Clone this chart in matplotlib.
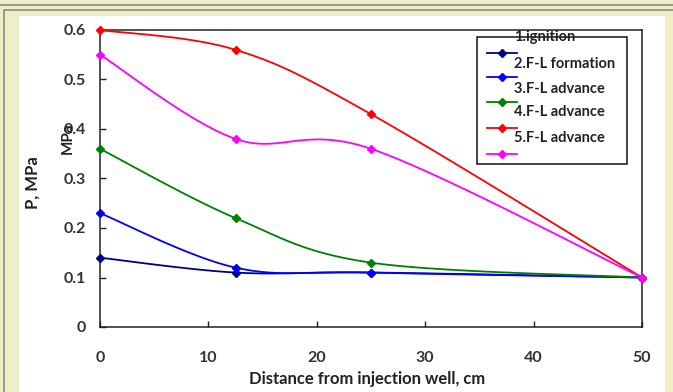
import matplotlib.pyplot as plt
import numpy as np
from matplotlib.lines import Line2D
from matplotlib.patches import Rectangle

plt.rcParams['font.family'] = ['Lato', 'DejaVu Sans']

# distance from injection well (cm) and pressure at each stage (MPa)
distance = [0, 12.5, 25, 50]
p_ignition = [0.14, 0.11, 0.11, 0.10]
p_formation = [0.23, 0.12, 0.11, 0.10]
p_advance3 = [0.36, 0.22, 0.13, 0.10]
p_advance4 = [0.60, 0.56, 0.43, 0.10]
p_advance5 = [0.55, 0.38, 0.36, 0.10]

labels = ["1.ignition", "2.F-L formation", "3.F-L advance", "4.F-L advance", "5.F-L advance"]
colors = ["#000080", "#0000ff", "#008000", "#ff0000", "#ff00ff"]

W, H = 673, 392


def smooth(x, y, n=40):
    # bezier smoothing through every point, like a spreadsheet "smoothed line"
    x = np.asarray(x, float)
    y = np.asarray(y, float)
    pts = np.column_stack([x, y])
    out = []
    for i in range(len(pts) - 1):
        p0 = pts[max(i - 1, 0)]
        p1 = pts[i]
        p2 = pts[i + 1]
        p3 = pts[min(i + 2, len(pts) - 1)]
        c1 = p1 + (p2 - p0) / 6
        c2 = p2 - (p3 - p1) / 6
        t = np.linspace(0, 1, n)[:, None]
        seg = ((1 - t) ** 3) * p1 + 3 * ((1 - t) ** 2) * t * c1 + 3 * (1 - t) * t ** 2 * c2 + t ** 3 * p2
        out.append(seg if i == 0 else seg[1:])
    seg = np.vstack(out)
    return seg[:, 0], seg[:, 1]


def fx(px):
    return px / W


def fy(py):
    return 1 - py / H


fig = plt.figure(figsize=(W / 100, H / 100), dpi=100)
fig.patch.set_facecolor("#efefc6")

# panel frames
fig.patches.append(Rectangle((fx(-2), fy(5)), fx(W + 4), 5 / H + 0.02, transform=fig.transFigure,
                             facecolor="#efefc6", edgecolor="#8c8c8c", lw=1.2, zorder=-3))
fig.patches.append(Rectangle((fx(4), fy(H + 5)), fx(W + 10), (H - 10 + 5) / H, transform=fig.transFigure,
                             facecolor="#efefc6", edgecolor="#8c8c8c", lw=1.2, zorder=-3))
fig.patches.append(Rectangle((fx(19), 0), fx(665 - 19), fy(16), transform=fig.transFigure,
                             facecolor="white", edgecolor="none", zorder=-2))

ax = fig.add_axes([fx(100), fy(327), fx(642 - 100), (327 - 30) / H])
ax.set_facecolor("none")
ax.set_zorder(2)

series = [p_ignition, p_formation, p_advance3, p_advance4, p_advance5]
for vals, c in zip(series, colors):
    sx, sy = smooth(distance, vals)
    ax.plot(sx, sy, color=c, lw=1.3, zorder=3, clip_on=False)
    ax.plot(distance, vals, ls="none", marker="D", ms=4.5, color=c, zorder=4, clip_on=False)

ax.set_xlim(0, 50)
ax.set_ylim(0, 0.6)
ax.set_xticks([0, 10, 20, 30, 40, 50])
ax.set_yticks([0, 0.1, 0.2, 0.3, 0.4, 0.5, 0.6])
ax.set_yticklabels(["0", "0.1", "0.2", "0.3", "0.4", "0.5", "0.6"])
ax.tick_params(direction="in", length=4, width=1, colors="#222222", labelcolor="#333333",
               labelsize=11.5)
ax.tick_params(axis="y", pad=10)
ax.tick_params(axis="x", pad=17)
for lab in ax.get_xticklabels() + ax.get_yticklabels():
    lab.set_fontweight("bold")
for s in ax.spines.values():
    s.set_linewidth(1.1)
    s.set_color("#222222")

fig.text(fx(367), fy(379), "Distance from injection well, cm", ha="center", va="center",
         fontsize=12, fontweight="bold", color="#222222")
fig.text(fx(33), fy(183), "P, MPa", rotation=90, ha="center", va="center",
         fontsize=12, fontweight="bold", color="#222222")
fig.text(fx(68), fy(138), "MPa", rotation=90, ha="center", va="center",
         fontsize=11, fontweight="bold", color="#222222", zorder=5)

# legend box, drawn by hand
fig.patches.append(Rectangle((fx(477), fy(164)), fx(627 - 477), (164 - 37) / H,
                             transform=fig.transFigure, facecolor="white",
                             edgecolor="#111111", lw=1.1, zorder=5))
row_y = [53, 77, 102, 128, 154]
text_y = [37, 64, 89, 112, 138]
for c, ly in zip(colors, row_y):
    fig.lines.append(Line2D([fx(487), fx(517)], [fy(ly), fy(ly)], transform=fig.transFigure,
                            color=c, lw=1.3, zorder=6))
    fig.lines.append(Line2D([fx(502)], [fy(ly)], transform=fig.transFigure,
                            color=c, marker="D", ms=4.5, zorder=6))
for lab, ty in zip(labels, text_y):
    fig.text(fx(514), fy(ty), lab, ha="left", va="center", fontsize=10.5,
             fontweight="bold", color="#222222", zorder=7)

fig.savefig("out.png", dpi=100, facecolor=fig.get_facecolor())
